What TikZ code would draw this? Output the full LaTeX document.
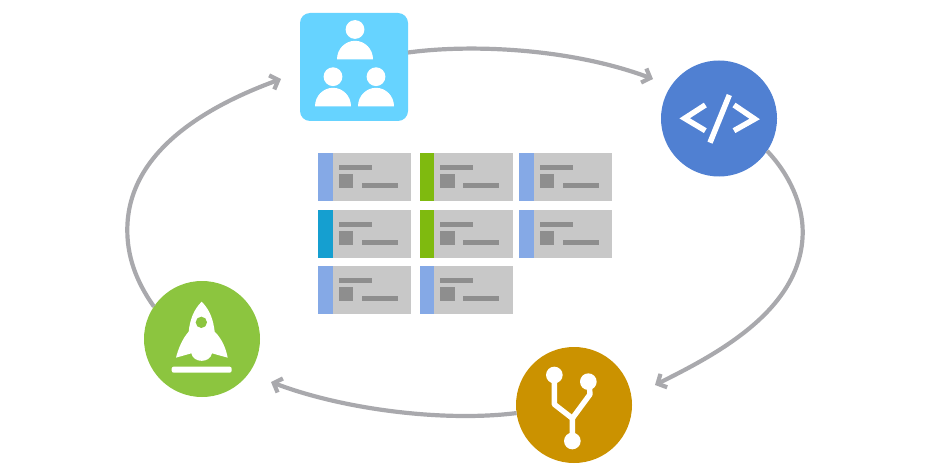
\documentclass[tikz,border=0pt]{standalone}
\usetikzlibrary{arrows.meta}
\definecolor{flowgray}{HTML}{A9A9AD}
\definecolor{skyc}{HTML}{66D3FF}
\definecolor{bluec}{HTML}{5080D2}
\definecolor{goldc}{HTML}{CB9200}
\definecolor{greenc}{HTML}{8CC53F}
\definecolor{cardc}{HTML}{C8C8C8}
\definecolor{cardd}{HTML}{8E8E8E}
\definecolor{barA}{HTML}{85A9E6}
\definecolor{barB}{HTML}{7FBA0F}
\definecolor{barC}{HTML}{159FD0}
\tikzset{
  flow/.style={draw=flowgray,line width=4.2pt,-{Straight Barb[length=7pt,width=15pt,line width=4.2pt]}},
  hub/.style={circle,minimum size=116pt,inner sep=0pt,outer sep=0pt},
  sq/.style={rounded corners=10pt,minimum size=108pt,inner sep=0pt,outer sep=0pt,fill=skyc},
  cardbox/.style={fill=cardc,minimum width=93pt,minimum height=48pt,inner sep=0pt,outer sep=0pt},
  iconline/.style={draw=white,line width=5.4pt},
}
\newcommand{\personicon}[4]{% head x, head y, base y, half width
  \fill[white] (#1,#2) circle[radius=9.4];
  \fill[white] (#1-#4,#3) arc[start angle=180,end angle=360,x radius=#4,y radius=18.5] -- cycle;
}
\newcommand{\taskcard}[4]{% name, left, top, colour
  \node[cardbox,anchor=north west] (#1) at (#2,#3) {};
  \begin{scope}[shift={(#2,#3)}]
    \fill[#4] (0,0) rectangle (14.5,48);
    \fill[cardd] (20.5,12) rectangle (53.5,17);
    \fill[cardd] (20.5,21) rectangle (35,35);
    \fill[cardd] (43.5,30) rectangle (79.5,35);
  \end{scope}
}
\begin{document}
\begin{tikzpicture}[x=1pt,y=-1pt]
\useasboundingbox (0,0) rectangle (937,468);
% nodes
\node[sq] (team) at (354,67) {};
\node[hub,fill=bluec] (code) at (719,118.5) {};
\node[hub,fill=goldc] (fork) at (574,405) {};
\node[hub,fill=greenc] (ship) at (202,339) {};
% free arrow ends and waypoints
\coordinate (endcode) at (653,79);
\coordinate (endfork) at (655,385);
\coordinate (endship) at (271,382);
\coordinate (endteam) at (281,79);
\coordinate (wayright) at (802.7,231.7);
\coordinate (wayleft) at (127.3,230);
% connectors
\draw[flow] (team.15) .. controls (470,44) and (570,48) .. (endcode);
\draw[flow] (code.-34) .. controls (790,175) and (802.7,205) .. (wayright)
   .. controls (802.7,310) and (715,355) .. (endfork);
\draw[flow] (fork.188) .. controls (445,422) and (345,410) .. (endship);
\draw[flow] (ship.146) .. controls (135,280) and (127.3,255) .. (wayleft)
   .. controls (127.3,150) and (210,105) .. (endteam);
% team icon
\personicon{355}{29.5}{59.3}{18}
\personicon{333}{76.7}{106.3}{18}
\personicon{376}{76.7}{106.3}{18}
% code icon
\begin{scope}[shift={(630,60)},scale=1/3]
  \draw[iconline,line width=5.5pt,miter limit=10] (226,135) -- (164,175) -- (226,212);
  \draw[iconline,line width=5.5pt,miter limit=10] (312,135) -- (374,177) -- (312,212);
  \draw[iconline,line width=5.5pt] (298,105) -- (240,248);
\end{scope}
% fork icon
\begin{scope}[shift={(505,335)},scale=1/3]
  \draw[iconline,line join=round] (148,120) -- (148,208) -- (202,250) -- (202,318);
  \draw[iconline,line join=round] (252,140) -- (255,178) -- (202,250);
  \fill[white] (148,120) circle[radius=25];
  \fill[white] (250,140) circle[radius=25];
  \fill[white] (202,318) circle[radius=25];
\end{scope}
% rocket icon
\begin{scope}[shift={(130,270)},scale=1/3]
  \fill[white] (215,95) .. controls (240,120) and (250,150) .. (254,185)
     .. controls (275,205) and (288,235) .. (293,263)
     -- (246,250) .. controls (240,280) and (190,280) .. (184,250)
     -- (138,263) .. controls (145,235) and (158,205) .. (176,185)
     .. controls (180,150) and (190,120) .. (215,95) -- cycle;
  \fill[greenc] (214,157) circle[radius=17];
  \fill[white,rounded corners=2pt] (125,290) rectangle (305,308);
\end{scope}
% cards
\taskcard{c1}{318}{153}{barA}
\taskcard{c2}{419.5}{153}{barB}
\taskcard{c3}{519}{153}{barA}
\taskcard{c4}{318}{210}{barC}
\taskcard{c5}{419.5}{210}{barB}
\taskcard{c6}{519}{210}{barA}
\taskcard{c7}{318}{266}{barA}
\taskcard{c8}{419.5}{266}{barA}
\end{tikzpicture}
\end{document}
